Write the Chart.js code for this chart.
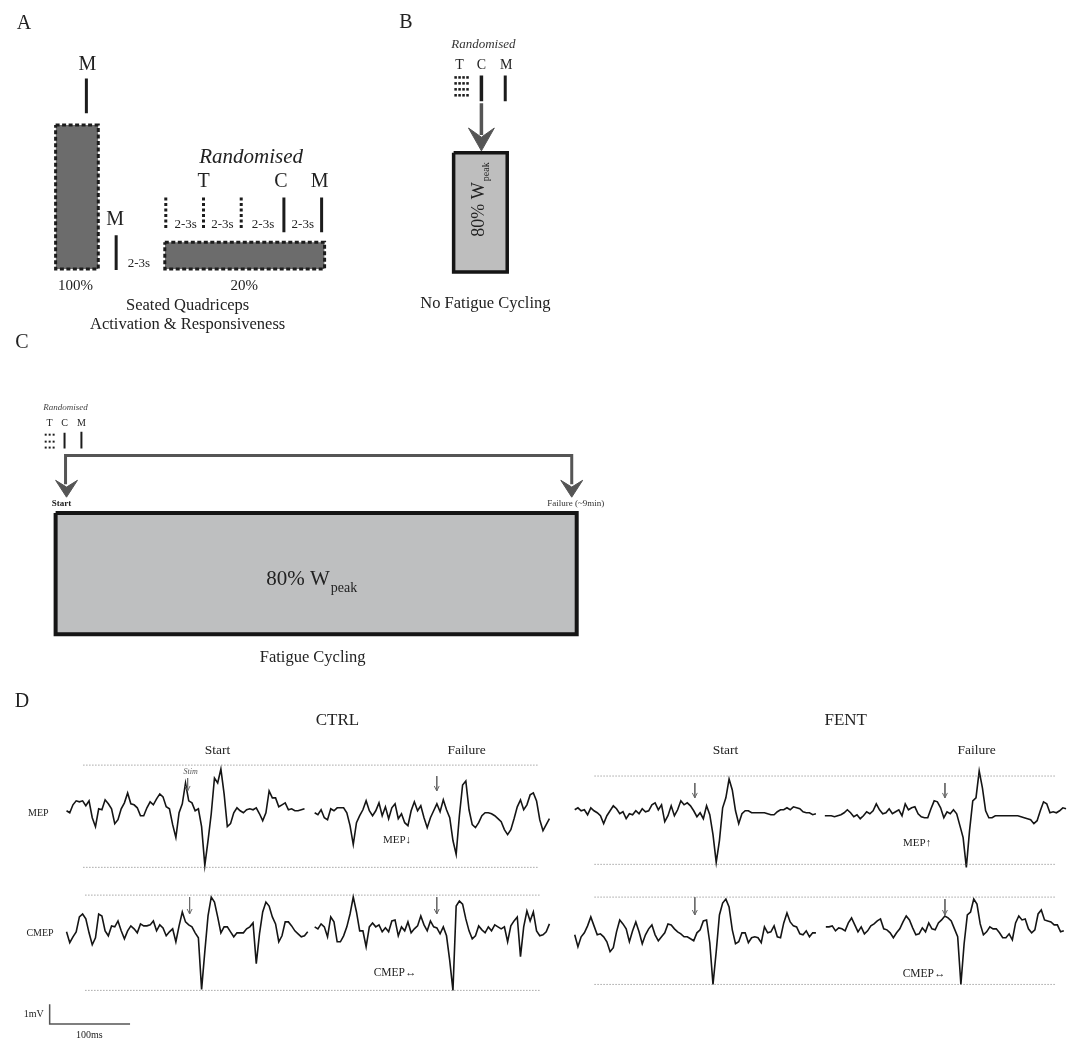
<!DOCTYPE html>
<html>
<head>
<meta charset="utf-8">
<script src="https://cdn.jsdelivr.net/npm/chart.js@4.4.0/dist/chart.umd.min.js"></script>
<style>
  html, body { margin: 0; padding: 0; background: #fff; }
</style>
</head>
<body>
<canvas id="fig" width="1074" height="1044"></canvas>
<script>
// EMG traces in mV, one sample every 4 ms
const ctrlStartMep = [0, -0.1, 0.3, 0.5, 0.45, 0.5, 0.25, 0.5, -0.35, -0.8, 0.1, 0.05, 0.55, 0.35, 0.1, -0.65, -0.45, 0.1, 0.4, 0.9, 0.35, 0.3, 0.15, -0.25, -0.25, 0.15, 0.45, 0.3, 0.6, 0.85, 0.7, 0.2, 0.1, -0.7, -1.35, -0.1, 0.35, 1.4, 0.5, 0.4, 0, 0.1, -0.8, -2.75, -1.5, -0.15, 1.65, 1.4, 2.1, 0.85, -0.8, -0.65, -0.1, 0.15, 0, -0.1, 0.05, 0.1, 0.05, 0.15, -0.15, -0.5, -0.1, 1.0, 0.65, 0.65, 0.2, 0.3, 0.4, 0.05, 0.1, 0, 0, 0.05, 0.1];
const ctrlFailMep = [0, -0.1, 0.15, -0.25, -0.35, 0.2, 0.1, 0.25, 0.25, 0.25, 0, -0.65, -1.6, -0.5, -0.15, 0.15, 0.6, 0.1, -0.15, 0.1, 0.5, -0.15, 0.3, -0.3, 0.25, 0.45, -0.3, -0.05, -0.5, -0.65, 0.1, 0.55, 0.1, 0.35, -0.25, -0.75, -0.25, 0.1, 0.45, 0.05, 0.65, 0.15, -0.25, -1.4, -2.1, -0.15, 1.4, 1.6, 0.15, -0.6, -0.75, -0.5, -0.15, 0, 0, -0.05, -0.15, -0.3, -0.45, -0.85, -1.1, -0.85, -0.3, 0.3, 0.65, 0.15, 0.4, 0.9, 1.0, 0.6, -0.35, -0.9, -0.6, -0.3];
const ctrlStartCmep = [0.1, -0.45, -0.15, 0.1, 0.85, 1.0, 0.75, 0.05, -0.55, -0.2, 1.0, 0.9, 0.15, -0.1, 0.4, 0.35, 0.65, 0.15, -0.25, 0.15, 0.4, 0.25, 0.05, 0.5, 0.4, 0.4, 0.45, 0.65, 0.15, 0.45, 0.3, -0.1, 0.1, 0.25, -0.4, 0.4, 1.1, 0.6, 0.45, 0.35, 0.05, -0.2, -2.8, -0.9, 0.9, 1.85, 1.6, 0.85, 0.05, 0.35, 0.35, 0.1, -0.15, 0.05, 0.05, 0.05, 0.25, 0.35, 0.55, -1.5, 0, 1.1, 1.6, 1.4, 0.85, 0.5, -0.4, -0.1, 0.6, 0.6, 0.4, 0.15, 0, -0.15, -0.1, 0.1];
const ctrlFailCmep = [0.35, 0.25, 0.5, 0.35, -0.15, 0.85, 0.6, -0.4, -0.4, -0.1, 0.35, 1.0, 1.85, 1.1, 0.15, 0.15, -0.65, 0.35, 0.55, 0.35, 0.45, 0.1, 0.3, 0.1, 0.65, 0.7, -0.1, 0.35, 0.15, 0.6, 0.05, 0.25, 0.4, 0.9, 0.45, 0.15, 0.65, 0.35, 0.3, 0, 0.35, -0.1, -1.35, -2.85, 1.4, 1.65, 1.5, 0.75, 0.15, -0.25, -0.1, 0.4, 0.2, 0.05, 0.35, 0.15, 0.45, 0.35, 0.25, 0.35, -0.4, 0.4, 0.65, 0.85, -1.15, 0.35, 1.15, 0.65, 1.1, 0.15, -0.1, -0.05, 0.1, 0.5];
const fentStartMep = [0.15, 0.25, 0.1, 0.15, -0.1, 0.25, 0.1, 0, -0.15, -0.55, -0.15, 0.1, 0.35, 0.2, -0.05, 0.05, -0.3, -0.05, -0.1, 0.1, -0.05, 0.2, 0.05, 0.1, 0.4, 0.5, 0.15, 0.4, -0.45, -0.15, 0.35, -0.15, 0.15, 0.6, 0.4, 0.5, 0.35, 0.1, -0.2, 0, -0.3, 0.35, -0.1, -1.1, -2.5, -1.4, 0.25, 0.75, 1.7, 1.15, 0.1, -0.55, -0.05, 0.1, 0.1, 0, 0, 0, 0, 0, -0.05, -0.1, -0.1, 0.05, 0.15, 0.15, 0.25, 0.15, 0.3, 0.25, 0.2, 0.05, 0, 0, -0.1, -0.05];
const fentFailMep = [0, 0, 0, -0.05, 0, 0.05, 0.15, 0.3, 0.15, -0.05, 0.05, -0.15, 0, 0.2, 0.1, 0.25, 0.6, 0.3, 0.1, 0.15, 0.35, 0.1, 0.2, 0.3, 0, 0.6, 0.3, 0.4, 0.45, 0.1, -0.05, -0.1, -0.1, 0.35, 0.75, 0.7, 0.4, -0.1, 0.2, 0.1, 0.3, 0.1, -0.5, -1.1, -2.6, -0.75, 0.75, 0.9, 2.25, 1.4, 0.25, -0.1, -0.1, 0, 0, 0, 0, 0, 0, 0, 0, -0.05, -0.1, -0.15, -0.2, -0.4, -0.25, 0.25, 0.7, 0.6, 0.15, 0.2, 0.15, 0.25, 0.4, 0.35];
const fentStartCmep = [0, -0.6, -0.1, 0.1, 0.45, 0.9, 0.45, 0, 0.05, -0.1, -0.35, -0.85, -0.65, 0.15, 0.75, 0.55, 0.3, -0.35, 0.2, 0.65, 0.15, -0.45, 0, 0.3, 0.5, 0, -0.3, -0.1, 0.1, 0.55, 0.5, 0.3, 0.15, 0.05, -0.1, -0.1, -0.2, -0.3, 0.1, 0.25, 0.7, 0.75, -0.4, -2.5, -0.85, 1.0, 1.6, 1.8, 1.4, 0.25, -0.45, -0.35, 0.1, 0.1, -0.4, -0.15, -0.1, -0.15, -0.4, 0.4, 0.1, 0.15, 0.45, -0.1, -0.15, 0.6, 1.1, 0.65, 0.45, 0.4, 0.05, 0, 0.2, -0.1, 0.1, 0.1];
const fentFailCmep = [0.25, 0.25, 0.3, 0.05, 0.2, 0.15, 0.05, 0.45, 0.7, 0.35, 0, 0.25, -0.1, 0.05, 0.3, 0.4, 0.55, 0.65, 0.15, 0.1, -0.05, -0.3, -0.05, 0.15, 0.5, 0.8, 0.6, 0.2, -0.15, -0.1, 0.2, 0, 0.45, 0.15, 0.1, 0.45, 0.6, 0.8, 0.7, 0.55, 0.15, -0.25, -2.65, -0.6, 0.85, 1.0, 1.65, 1.4, 0.4, -0.15, 0, 0.25, 0.15, 0.15, -0.05, -0.3, -0.3, -0.1, -0.4, 0.45, 0.8, 0.6, 0.65, 0.15, -0.05, 0.1, 0.9, 1.1, 0.6, 0.55, 0.5, 0.35, 0.35, 0, 0.05];

const sampleMs = 4;
const scaleBarMv = 1;
const scaleBarMs = 100;

// figure geometry (page pixels)
const pxPerMs = 0.81;
const pxPerMv = 20;
const FONT = "'Liberation Serif', 'Times New Roman', serif";
const ink = '#1c1c1c';
const arrowGrey = '#555555';

const traces = [
  { v: ctrlStartMep, x0: 63, y0: 813 },
  { v: ctrlFailMep, x0: 313, y0: 815 },
  { v: ctrlStartCmep, x0: 63, y0: 937 },
  { v: ctrlFailCmep, x0: 313, y0: 937 },
  { v: fentStartMep, x0: 575, y0: 815 },
  { v: fentFailMep, x0: 827, y0: 818 },
  { v: fentStartCmep, x0: 575, y0: 938 },
  { v: fentFailCmep, x0: 828, y0: 935 }
];

// dotted reference lines [x1, x2, y]
const refLines = [
  [80, 538, 767], [80, 538, 870], [82, 540, 898], [82, 540, 994],
  [595, 1060, 778], [595, 1060, 867], [595, 1060, 900], [595, 1060, 988]
];

// stimulus arrows [x, yTop, yBottom]
const stimArrows = [
  [185, 780, 793], [436, 778, 793], [187, 900, 917], [436, 900, 917],
  [696, 785, 800], [948, 785, 800], [696, 900, 918], [948, 902, 918]
];

const labels = [
  // A
  { t: 'A', x: 20, y: 20, f: '20px' },
  { t: 'M', x: 84, y: 61, f: '20px' },
  { t: 'M', x: 112, y: 217, f: '20px' },
  { t: '2-3s', x: 136, y: 262, f: '13px' },
  { t: '100%', x: 72, y: 284, f: '15px' },
  { t: 'Randomised', x: 249, y: 155, f: 'italic 21px' },
  { t: 'T', x: 201, y: 179, f: '20px' },
  { t: 'C', x: 279, y: 179, f: '20px' },
  { t: 'M', x: 318, y: 179, f: '20px' },
  { t: '2-3s', x: 183, y: 222, f: '13px' },
  { t: '2-3s', x: 220, y: 222, f: '13px' },
  { t: '2-3s', x: 261, y: 222, f: '13px' },
  { t: '2-3s', x: 301, y: 222, f: '13px' },
  { t: '20%', x: 242, y: 284, f: '15px' },
  { t: 'Seated Quadriceps', x: 185, y: 304, f: '16.5px' },
  { t: 'Activation & Responsiveness', x: 185, y: 323, f: '16.5px' },
  // B
  { t: 'B', x: 405, y: 19, f: '20px' },
  { t: 'Randomised', x: 483, y: 41, f: 'italic 13px', c: '#333' },
  { t: 'T', x: 459, y: 62, f: '14px' },
  { t: 'C', x: 481, y: 62, f: '14px' },
  { t: 'M', x: 506, y: 62, f: '14px' },
  { t: '80% W', sub: 'peak', x: 479, y: 197, f: '18px', sf: '10px', sdy: 7, rot: -90 },
  { t: 'No Fatigue Cycling', x: 485, y: 302, f: '16.5px' },
  // C
  { t: 'C', x: 18, y: 341, f: '20px' },
  { t: 'Randomised', x: 62, y: 407, f: 'italic 9px', c: '#444' },
  { t: 'T', x: 46, y: 423, f: '10px' },
  { t: 'C', x: 61, y: 423, f: '10px' },
  { t: 'M', x: 78, y: 423, f: '10px' },
  { t: 'Start', x: 58, y: 504, f: 'bold 9px' },
  { t: 'Failure (~9min)', x: 576, y: 504, f: '9px', c: '#333' },
  { t: '80% W', sub: 'peak', x: 310, y: 580, f: '21px', sf: '14px', sdy: 9 },
  { t: 'Fatigue Cycling', x: 311, y: 659, f: '16.5px' },
  // D
  { t: 'D', x: 18, y: 703, f: '20px' },
  { t: 'CTRL', x: 336, y: 722, f: '17px' },
  { t: 'FENT', x: 848, y: 722, f: '17px' },
  { t: 'Start', x: 215, y: 752, f: '13.5px' },
  { t: 'Failure', x: 466, y: 752, f: '13.5px' },
  { t: 'Start', x: 727, y: 752, f: '13.5px' },
  { t: 'Failure', x: 980, y: 752, f: '13.5px' },
  { t: 'MEP', x: 45, y: 816, f: '10px', a: 'right' },
  { t: 'CMEP', x: 50, y: 937, f: '10px', a: 'right' },
  { t: 'Stim', x: 188, y: 774, f: 'italic 8px', c: '#555' },
  { t: 'MEP\u2193', x: 396, y: 843, f: '11px' },
  { t: 'CMEP\u2194', x: 394, y: 976, f: '11.5px' },
  { t: 'MEP\u2191', x: 920, y: 846, f: '11px' },
  { t: 'CMEP\u2194', x: 927, y: 977, f: '11.5px' },
  { t: '1mV', x: 40, y: 1018, f: '10px', a: 'right' },
  { t: '100ms', x: 86, y: 1039, f: '10px' }
];

const datasets = [];

function addLine(pts, o = {}) {
  datasets.push({
    data: pts.map(p => ({ x: p[0], y: p[1] })),
    showLine: true,
    pointRadius: 0,
    tension: 0,
    borderColor: o.color || ink,
    borderWidth: o.width === undefined ? 1.5 : o.width,
    borderDash: o.dash || [],
    borderJoinStyle: 'miter',
    backgroundColor: o.fill || 'transparent',
    fill: o.fillTo === undefined ? false : o.fillTo,
    order: o.order || 1
  });
}

function addRect(x1, y1, x2, y2, fillColor, lineColor, lw, dash) {
  addLine([[x1, y1], [x2, y1]], { width: 0, fill: fillColor, fillTo: { value: y2 }, order: 3 });
  addLine([[x1, y1], [x2, y1], [x2, y2], [x1, y2], [x1, y1]], { color: lineColor, width: lw, dash: dash });
}

function addHead(x, tipY, halfW, len, color) {
  addLine([[x - halfW, tipY - len], [x, tipY], [x + halfW, tipY - len], [x, tipY - len * 0.6], [x - halfW, tipY - len]],
    { color: color, width: 1, fill: color, fillTo: 'shape' });
}

function addDots(xs, ys, r) {
  const pts = [];
  ys.forEach(y => xs.forEach(x => pts.push({ x, y })));
  datasets.push({
    data: pts, showLine: false, pointStyle: 'rect', pointRadius: r,
    pointBackgroundColor: ink, backgroundColor: ink, pointBorderWidth: 0, borderWidth: 0, order: 1
  });
}

// Panel A
addRect(52, 122, 95, 267, '#6c6c6c', ink, 3, [4, 2.5]);
addRect(162, 240, 323, 267, '#6c6c6c', ink, 3, [4, 2.5]);
addLine([[83, 75], [83, 110]], { width: 3 });
addLine([[113, 233], [113, 268]], { width: 3 });
[163, 201, 239].forEach(x => addLine([[x, 195], [x, 228]], { width: 3, dash: [3, 2.5] }));
[282, 320].forEach(x => addLine([[x, 195], [x, 230]], { width: 3 }));

// Panel B
addDots([455, 459, 463, 467], [74, 80, 86, 92], 1.8);
addLine([[481, 72], [481, 98]], { width: 3.5 });
addLine([[505, 72], [505, 98]], { width: 3 });
addLine([[481, 100], [481, 132]], { width: 3.5, color: arrowGrey });
addHead(481, 148, 13, 23, arrowGrey);
addRect(453, 150, 507, 270, '#bebebe', '#151515', 3.5);

// Panel C
addDots([42, 46, 50], [434, 441, 447], 1.4);
addLine([[61, 432], [61, 448]], { width: 2 });
addLine([[78, 431], [78, 448]], { width: 2 });
addLine([[62, 484], [62, 455], [572, 455], [572, 484]], { width: 3, color: arrowGrey });
addHead(63, 497, 11, 17, arrowGrey);
addHead(572, 497, 11, 17, arrowGrey);
addRect(52, 513, 577, 635, '#bebfc0', '#151515', 4);

// Panel D
refLines.forEach(([x1, x2, y]) => addLine([[x1, y], [x2, y]], { width: 1, color: '#7a7a7a', dash: [1, 2] }));
stimArrows.forEach(([x, y1, y2]) => {
  addLine([[x, y1], [x, y2]], { width: 1, color: '#6a6a6a' });
  addLine([[x - 2.5, y2 - 5], [x, y2], [x + 2.5, y2 - 5]], { width: 1, color: '#6a6a6a' });
});
traces.forEach(tr => {
  addLine(tr.v.map((v, i) => [tr.x0 + i * sampleMs * pxPerMs, tr.y0 - v * pxPerMv]), { width: 1.6, color: '#151515' });
});
// scale bar
addLine([[46, 1028 - scaleBarMv * pxPerMv], [46, 1028], [46 + scaleBarMs * pxPerMs, 1028]], { width: 1.5, color: '#555' });

const textPlugin = {
  id: 'figText',
  afterDatasetsDraw(chart) {
    const { ctx, scales: { x, y } } = chart;
    labels.forEach(l => {
      ctx.save();
      ctx.fillStyle = l.c || '#222';
      ctx.textBaseline = 'middle';
      ctx.translate(x.getPixelForValue(l.x), y.getPixelForValue(l.y));
      if (l.rot) ctx.rotate(l.rot * Math.PI / 180);
      const mainFont = l.f + ' ' + FONT;
      if (l.sub) {
        ctx.font = mainFont;
        const w1 = ctx.measureText(l.t).width;
        ctx.font = l.sf + ' ' + FONT;
        const w2 = ctx.measureText(l.sub).width;
        const start = -(w1 + w2 + 1) / 2;
        ctx.textAlign = 'left';
        ctx.font = mainFont;
        ctx.fillText(l.t, start, 0);
        ctx.font = l.sf + ' ' + FONT;
        ctx.fillText(l.sub, start + w1 + 1, l.sdy);
      } else {
        ctx.font = mainFont;
        ctx.textAlign = l.a || 'center';
        ctx.fillText(l.t, 0, 0);
      }
      ctx.restore();
    });
  }
};

new Chart(document.getElementById('fig'), {
  type: 'line',
  data: { datasets },
  options: {
    responsive: false,
    animation: false,
    devicePixelRatio: 1,
    events: [],
    layout: { padding: 0 },
    scales: {
      x: { type: 'linear', min: 0, max: 1074, display: false },
      y: { type: 'linear', min: 0, max: 1044, reverse: true, display: false }
    },
    plugins: { legend: { display: false }, tooltip: { enabled: false } }
  },
  plugins: [textPlugin]
});
</script>
</body>
</html>
